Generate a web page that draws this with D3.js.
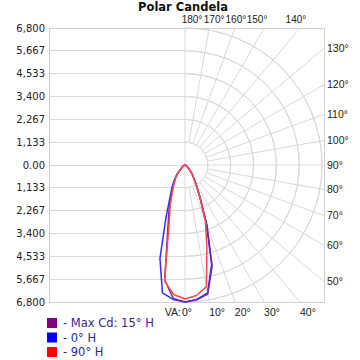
<!DOCTYPE html>
<html><head><meta charset="utf-8">
<script src="https://cdn.jsdelivr.net/npm/d3@7/dist/d3.min.js"></script>
<style>
html,body{margin:0;padding:0;background:#fff;}
svg{display:block;font-family:"DejaVu Sans",Verdana,sans-serif;}
</style></head>
<body><svg id="c" width="360" height="360"></svg>
<script>
// ---- data ----
const title = "Polar Candela";
const yTickValues = [-6800, -5666.67, -4533.33, -3400, -2266.67, -1133.33, 0, 1133.33, 2266.67, 3400, 4533.33, 5666.67, 6800];
const yTickLabels = ["6,800","5,667","4,533","3,400","2,267","1,133","0.00","1,133","2,267","3,400","4,533","5,667","6,800"];
const maxCd = 6800;
const ringValues = [1133.33, 2266.67, 3400, 4533.33, 5666.67, 6800];
const spokeAngles = [0,10,20,30,40,50,60,70,80,90,100,110,120,130,140,150,160,170,180];
const topLabels = ["180°","170°","160°","150°","140°"];
const topLabelAngles = [180,170,160,150,140];
const rightLabels = ["130°","120°","110°","100°","90°","80°","70°","60°","50°"];
const rightLabelAngles = [130,120,110,100,90,80,70,60,50];
const bottomLabels = ["0°","10°","20°","30°","40°"];
const bottomLabelAngles = [0,10,20,30,40];
const vAngles = [0,5,10,15,20,25,30,35,40,45,50,55,60,65,70,75,80,85,90];
const seriesNames = ["- Max Cd: 15° H","- 0° H","- 90° H"];
const maxRight = [6800,6720,6500,5200,3200,1780,1080,740,500,310,195,120,75,45,28,16,8,3,0];
const maxLeft  = [6800,6650,5800,3300,2300,1550,1150,850,600,360,210,130,80,50,30,18,10,4,0];
const h0Right  = [6800,6700,6450,5100,3100,1700,1050,720,480,300,190,120,75,45,28,16,8,3,0];
const h0Left   = [6800,6700,6450,4800,2750,1750,1300,950,650,380,220,130,80,50,30,18,10,4,0];
const h90Right = [6650,6500,6130,4200,2950,1750,1050,720,480,300,190,120,75,45,28,16,8,3,0];
const h90Left  = [6650,6450,5850,3050,2150,1500,1100,820,580,350,200,125,78,48,30,18,10,4,0];

// ---- layout ----
const svg = d3.select("#c");
const L = 49, R = 324, T = 28, B = 302;
const y = d3.scaleLinear().domain([-maxCd, maxCd]).range([B, T]);
const cx = 185, cy = y(0);
const r = d3.scaleLinear().domain([0, maxCd]).range([0, (B - T) / 2]);
const grid = "#d9d9d9";
const rad = d => d * Math.PI / 180;
const angFont = "'Liberation Sans',Arial,sans-serif";

// horizontal grid (left half)
svg.append("g").selectAll("line").data(yTickValues).join("line")
  .attr("x1", L).attr("x2", cx).attr("y1", d => y(d)).attr("y2", d => y(d))
  .attr("stroke", grid).attr("stroke-width", 1).attr("shape-rendering","crispEdges");

// arcs on the right half
const arc = d3.arc().startAngle(0).endAngle(Math.PI);
svg.append("g").attr("transform", `translate(${cx},${cy})`).selectAll("path").data(ringValues).join("path")
  .attr("d", d => arc({innerRadius: r(d), outerRadius: r(d)}))
  .attr("fill", "none").attr("stroke", grid).attr("stroke-width", 1);

// spokes clipped to rectangle
function edgeT(a) {
  const s = Math.sin(rad(a)), c = Math.cos(rad(a));
  let t = Infinity;
  if (s > 1e-6) t = Math.min(t, (R - cx) / s);
  if (c > 1e-6) t = Math.min(t, (B - cy) / c);
  if (c < -1e-6) t = Math.min(t, (cy - T) / -c);
  return t;
}
svg.append("g").selectAll("line").data(spokeAngles).join("line")
  .attr("x1", a => cx + (a % 90 === 0 ? 0 : r(ringValues[0])) * Math.sin(rad(a)))
  .attr("y1", a => cy + (a % 90 === 0 ? 0 : r(ringValues[0])) * Math.cos(rad(a)))
  .attr("x2", a => cx + edgeT(a) * Math.sin(rad(a)))
  .attr("y2", a => cy + edgeT(a) * Math.cos(rad(a)))
  .attr("stroke", grid).attr("stroke-width", 1);

// border
svg.append("rect").attr("x", L).attr("y", T).attr("width", R - L).attr("height", B - T)
  .attr("fill", "none").attr("stroke", "#cfcfcf").attr("shape-rendering","crispEdges");

// left axis labels
svg.append("g").selectAll("text").data(yTickValues).join("text")
  .attr("x", L - 4).attr("y", d => y(d)).attr("dy", "0.35em")
  .attr("text-anchor", "end").attr("font-size", 10).attr("fill", "#222")
  .text((d, i) => yTickLabels[i]);

// top labels
const topNudge = [7, 5, 1, -7, -4];
svg.append("g").selectAll("text").data(topLabelAngles).join("text")
  .attr("x", (a, i) => cx + edgeT(a) * Math.sin(rad(a)) + topNudge[i])
  .attr("y", T - 5).attr("text-anchor", "middle").attr("font-size", 10)
  .attr("font-family", angFont).attr("fill", "#222")
  .text((a, i) => topLabels[i]);

// right labels
svg.append("g").selectAll("text").data(rightLabelAngles).join("text")
  .attr("x", R + 3)
  .attr("y", a => cy + edgeT(a) * Math.cos(rad(a))).attr("dy", "0.35em")
  .attr("font-size", 10.5).attr("font-family", angFont).attr("fill", "#222")
  .text((a, i) => rightLabels[i]);

// bottom labels
svg.append("g").selectAll("text").data(bottomLabelAngles).join("text")
  .attr("x", a => cx + edgeT(a) * Math.sin(rad(a)) - (a === 0 ? 3 : 0))
  .attr("y", B + 14).attr("font-size", 10.5).attr("font-family", angFont).attr("fill", "#222")
  .text((a, i) => bottomLabels[i]);
svg.append("text").attr("x", cx - 4).attr("y", B + 14).attr("text-anchor", "end")
  .attr("font-size", 10.5).attr("font-family", angFont).attr("fill", "#222").text("VA:");

// title
svg.append("text").attr("x", 183).attr("y", 10.5).attr("text-anchor", "middle")
  .attr("font-size", 11.5).attr("font-weight", "bold").attr("fill", "#111").text(title);

// curves
const lr = d3.lineRadial().angle(d => d[0]).radius(d => r(d[1]));
function pts(left, right) {
  const p = [];
  for (let i = vAngles.length - 1; i >= 0; i--) p.push([Math.PI + rad(vAngles[i]), left[i]]);
  for (let i = 0; i < vAngles.length; i++) p.push([Math.PI - rad(vAngles[i]), right[i]]);
  return p;
}
const curves = [
  {l: h0Left, rr: h0Right, c: "#2f2ff5"},
  {l: maxLeft, rr: maxRight, c: "#6a2aa8"},
  {l: h90Left, rr: h90Right, c: "#ff4a4a"}
];
const cg = svg.append("g").attr("transform", `translate(${cx},${cy})`);
curves.forEach(cv => {
  cg.append("path").attr("d", lr(pts(cv.l, cv.rr)))
    .attr("fill", "none").attr("stroke", cv.c).attr("stroke-width", 1.5).attr("stroke-linejoin", "round");
});

// legend
const legColors = ["#800080", "#0000ff", "#ff0000"];
const lg = svg.append("g");
seriesNames.forEach((n, i) => {
  lg.append("rect").attr("x", 47).attr("y", 318 + i * 14.5).attr("width", 10).attr("height", 10).attr("fill", legColors[i]);
  lg.append("text").attr("x", 63).attr("y", 323 + i * 14.5).attr("dy", "0.38em")
    .attr("font-size", 11.5).attr("fill", "#2b2b8f").text(n);
});
</script></body></html>
